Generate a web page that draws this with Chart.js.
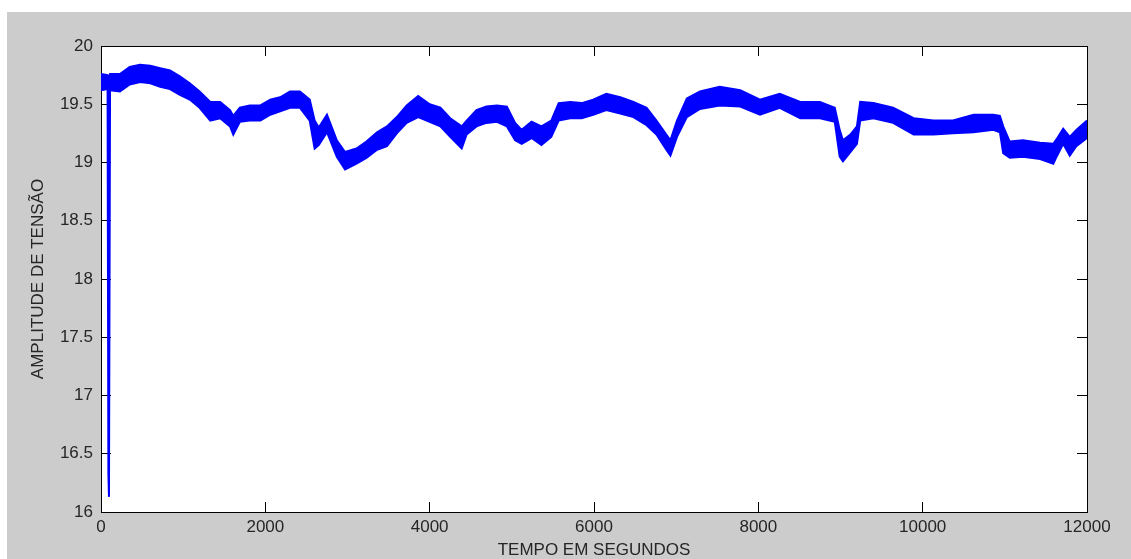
<!DOCTYPE html>
<html>
<head>
<meta charset="utf-8">
<script src="https://cdn.jsdelivr.net/npm/chart.js@4.4.0/dist/chart.umd.min.js"></script>
<style>
  html, body { margin: 0; padding: 0; background: #ffffff; }
  #wrap { width: 1131px; height: 559px; }
</style>
</head>
<body>
<div id="wrap"><canvas id="lineChart" width="1131" height="559"></canvas></div>
<script>
// tempo (s) and the upper / lower edge of the noisy band
const tempo = [0, 80, 90, 97, 110, 230, 350, 475, 600, 720, 840, 960, 1080, 1200, 1330, 1450, 1570, 1610, 1690, 1810, 1940,
  2060, 2180, 2300, 2420, 2540, 2600, 2650, 2750, 2870, 2970, 3110, 3230, 3360, 3480, 3600, 3720, 3860, 4000, 4130, 4250,
  4390, 4450, 4570, 4690, 4820, 4940, 5040, 5120, 5240, 5360, 5480, 5570, 5710, 5850, 5990, 6150, 6320, 6480, 6640, 6760,
  6880, 6930, 7010, 7130, 7290, 7530, 7780, 8020, 8260, 8510, 8750, 8930, 8990, 9030, 9120, 9200, 9240, 9400, 9640, 9890,
  10130, 10370, 10620, 10860, 10940, 10980, 11060, 11220, 11430, 11590, 11630, 11710, 11790, 11870, 12000];

const tensaoMax = [19.76, 19.75, 19.70, 19.72, 19.76, 19.76, 19.82, 19.84, 19.83, 19.81, 19.79, 19.74, 19.68, 19.61, 19.52, 19.52, 19.45, 19.40, 19.47, 19.49, 19.49,
  19.54, 19.56, 19.61, 19.61, 19.54, 19.36, 19.30, 19.41, 19.19, 19.09, 19.12, 19.18, 19.26, 19.31, 19.39, 19.49, 19.57, 19.50, 19.47, 19.38,
  19.31, 19.36, 19.45, 19.48, 19.49, 19.48, 19.34, 19.28, 19.35, 19.31, 19.36, 19.51, 19.52, 19.51, 19.54, 19.59, 19.56, 19.52, 19.47, 19.36,
  19.24, 19.19, 19.36, 19.55, 19.61, 19.65, 19.62, 19.54, 19.59, 19.52, 19.52, 19.47, 19.28, 19.19, 19.24, 19.31, 19.52, 19.51, 19.47, 19.38,
  19.36, 19.36, 19.41, 19.41, 19.40, 19.31, 19.18, 19.19, 19.17, 19.16, 19.20, 19.29, 19.22, 19.28, 19.36];

const tensaoMin = [19.62, 19.63, 16.33, 16.13, 19.62, 19.61, 19.67, 19.69, 19.68, 19.65, 19.63, 19.58, 19.54, 19.47, 19.36, 19.38, 19.31, 19.24, 19.35, 19.36, 19.36,
  19.41, 19.44, 19.47, 19.47, 19.36, 19.12, 19.15, 19.26, 19.05, 18.94, 18.99, 19.04, 19.11, 19.14, 19.25, 19.34, 19.39, 19.35, 19.31, 19.22,
  19.12, 19.24, 19.31, 19.34, 19.35, 19.31, 19.19, 19.16, 19.21, 19.15, 19.22, 19.36, 19.38, 19.38, 19.41, 19.45, 19.42, 19.39, 19.32, 19.24,
  19.11, 19.06, 19.22, 19.39, 19.46, 19.49, 19.48, 19.41, 19.47, 19.38, 19.38, 19.35, 19.05, 19.01, 19.09, 19.16, 19.36, 19.38, 19.34, 19.24,
  19.24, 19.25, 19.26, 19.28, 19.26, 19.08, 19.04, 19.05, 19.03, 18.99, 19.05, 19.16, 19.06, 19.14, 19.21];

const xTitulo = 'TEMPO EM SEGUNDOS';
const yTitulo = 'AMPLITUDE DE TENSÃO';

const fontFam = '"Liberation Sans", Arial, sans-serif';
const azul = '#0000ff';

// figure background: white strip, then matlab grey, white axes
const fundo = {
  id: 'fundo',
  beforeDraw(chart) {
    const c = chart.ctx;
    const a = chart.chartArea;
    c.save();
    c.fillStyle = '#ffffff';
    c.fillRect(0, 0, chart.width, chart.height);
    c.fillStyle = '#cccccc';
    c.fillRect(7, 12, chart.width - 7, chart.height - 12);
    c.fillStyle = '#ffffff';
    c.fillRect(a.left, a.top, a.right - a.left, a.bottom - a.top);
    c.restore();
  }
};

const gradeInterna = {
  color: '#000000',
  lineWidth: 1,
  drawOnChartArea: false,
  drawTicks: true,
  tickLength: -10
};

const ctx = document.getElementById('lineChart').getContext('2d');
new Chart(ctx, {
  type: 'line',
  data: {
    datasets: [
      {
        label: 'max',
        data: tempo.map((t, i) => ({ x: t, y: tensaoMax[i] })),
        borderColor: azul,
        borderWidth: 2,
        pointRadius: 0,
        tension: 0,
        fill: false
      },
      {
        label: 'min',
        data: tempo.map((t, i) => ({ x: t, y: tensaoMin[i] })),
        borderColor: azul,
        backgroundColor: azul,
        borderWidth: 2,
        pointRadius: 0,
        tension: 0,
        fill: '-1'
      }
    ]
  },
  options: {
    responsive: false,
    animation: false,
    events: [],
    layout: { padding: { left: 0, top: 46, right: 44, bottom: 0 } },
    plugins: {
      legend: { display: false },
      tooltip: { enabled: false }
    },
    scales: {
      x: {
        type: 'linear',
        position: 'bottom',
        min: 0,
        max: 12000,
        grid: gradeInterna,
        border: { display: true, color: '#000000', width: 1 },
        ticks: {
          stepSize: 2000,
          padding: 15,
          maxRotation: 0,
          color: '#262626',
          font: { family: fontFam, size: 17 },
          callback: (v) => String(v)
        },
        title: {
          display: true,
          text: xTitulo,
          color: '#262626',
          font: { family: fontFam, size: 17 },
          padding: { top: 0, bottom: -2 }
        },
        afterFit: (s) => { s.height = 47; }
      },
      x2: {
        type: 'linear',
        position: 'top',
        min: 0,
        max: 12000,
        grid: gradeInterna,
        border: { display: true, color: '#000000', width: 1 },
        ticks: { stepSize: 2000, display: false },
        afterFit: (s) => { s.height = 0; }
      },
      y: {
        type: 'linear',
        position: 'left',
        min: 16,
        max: 20,
        grid: gradeInterna,
        border: { display: true, color: '#000000', width: 1 },
        ticks: {
          stepSize: 0.5,
          padding: 18,
          color: '#262626',
          font: { family: fontFam, size: 17 },
          callback: (v) => String(v)
        },
        title: {
          display: true,
          text: yTitulo,
          color: '#262626',
          font: { family: fontFam, size: 17 },
          padding: { top: 28, bottom: 0 }
        },
        afterFit: (s) => { s.width = 101; }
      },
      y2: {
        type: 'linear',
        position: 'right',
        min: 16,
        max: 20,
        grid: gradeInterna,
        border: { display: true, color: '#000000', width: 1 },
        ticks: { stepSize: 0.5, display: false },
        afterFit: (s) => { s.width = 0; }
      }
    }
  },
  plugins: [fundo]
});
</script>
</body>
</html>
